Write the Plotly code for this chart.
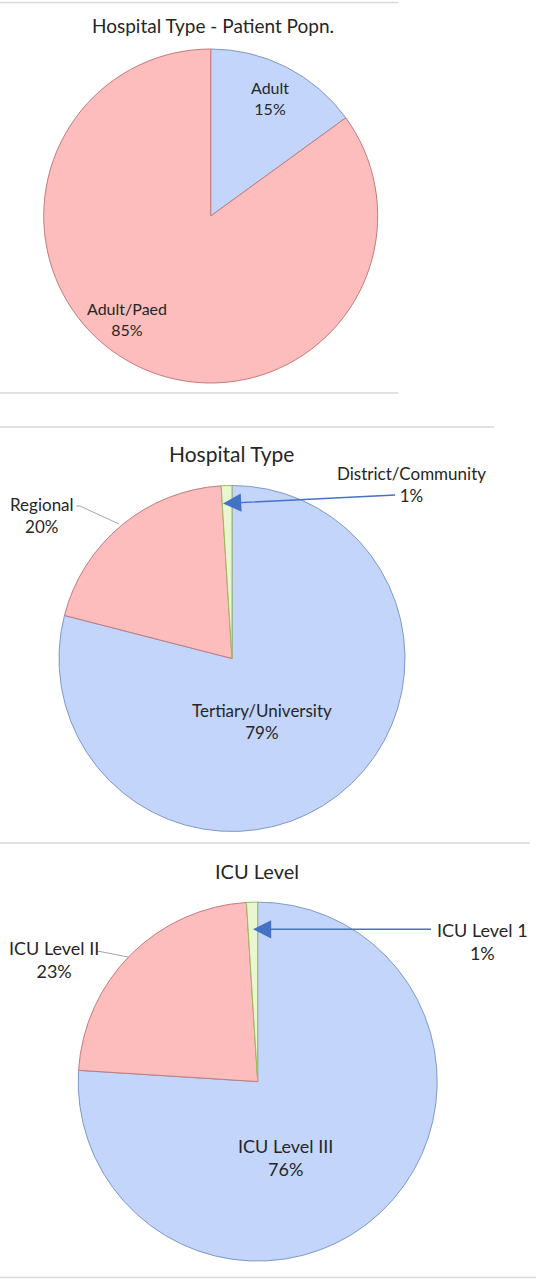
import plotly.graph_objects as go

W, H = 536, 1280

# chart 1 - patient population
popn_labels = ['Adult', 'Adult/Paed']
popn_values = [15, 85]

# chart 2 - hospital type
type_labels = ['Tertiary/University', 'Regional', 'District/Community']
type_values = [79, 20, 1]

# chart 3 - ICU level
icu_labels = ['ICU Level III', 'ICU Level II', 'ICU Level 1']
icu_values = [76, 23, 1]

titles = ['Hospital Type - Patient Popn.', 'Hospital Type', 'ICU Level']

BLUE = '#c3d5fb'
RED = '#fcbdbc'
GREEN = '#eaf6d0'
BLUE_LINE = '#8098c8'
RED_LINE = '#c47a7a'
GREEN_LINE = '#9bbb59'
TEXT = '#262626'
FONT = 'Lato'


def px(x):
    return x / W


def py(y):
    return 1 - y / H


def pie_domain(cx, cy, r):
    return dict(x=[px(cx - r), px(cx + r)], y=[py(cy + r), py(cy - r)])


def label(labels, values, i):
    return f'{labels[i]}<br>{values[i]}%'


fig = go.Figure()

fig.add_trace(go.Pie(labels=popn_labels, values=popn_values,
                     domain=pie_domain(210.7, 216, 167),
                     marker=dict(colors=[BLUE, RED],
                                 line=dict(color=[BLUE_LINE, RED_LINE], width=1)),
                     sort=False, direction='clockwise', textinfo='none',
                     hoverinfo='label+percent'))

fig.add_trace(go.Pie(labels=type_labels, values=type_values,
                     domain=pie_domain(232, 658.5, 173),
                     marker=dict(colors=[BLUE, RED, GREEN],
                                 line=dict(color=[BLUE_LINE, RED_LINE, GREEN_LINE], width=1)),
                     sort=False, direction='clockwise', textinfo='none',
                     hoverinfo='label+percent'))

fig.add_trace(go.Pie(labels=icu_labels, values=icu_values,
                     domain=pie_domain(257.7, 1081.6, 179.5),
                     marker=dict(colors=[BLUE, RED, GREEN],
                                 line=dict(color=[BLUE_LINE, RED_LINE, GREEN_LINE], width=1)),
                     sort=False, direction='clockwise', textinfo='none',
                     hoverinfo='label+percent'))

annotations = []


def text_at(txt, x, y, size):
    annotations.append(dict(text=txt, x=px(x), y=py(y), xref='paper', yref='paper',
                            xanchor='center', yanchor='middle', showarrow=False,
                            font=dict(family=FONT, size=size, color=TEXT)))


def arrow(x_tip, y_tip, x_tail, y_tail):
    annotations.append(dict(text='', x=px(x_tip), y=py(y_tip), xref='paper', yref='paper',
                            ax=x_tail - x_tip, ay=y_tail - y_tip,
                            showarrow=True, arrowhead=2, arrowsize=2.6,
                            arrowwidth=1.4, arrowcolor='#4472c4'))


# titles
text_at(titles[0], 212.5, 26, 19)
text_at(titles[1], 231, 453, 21)
text_at(titles[2], 257.4, 871, 20)

# chart 1 labels
text_at(label(popn_labels, popn_values, 0), 269.5, 98.5, 16)
text_at(label(popn_labels, popn_values, 1), 127, 319, 16)

# chart 2 labels
text_at(label(type_labels, type_values, 0), 262, 721.5, 17)
text_at(label(type_labels, type_values, 1), 42, 515, 17)
text_at(label(type_labels, type_values, 2), 411.6, 484.7, 17)
arrow(223, 503.5, 396.6, 495)

# chart 3 labels
text_at(label(icu_labels, icu_values, 0), 285, 1157, 18)
text_at(label(icu_labels, icu_values, 1), 54, 959, 18)
text_at(label(icu_labels, icu_values, 2), 482, 941.3, 18)
arrow(253, 929.3, 432.5, 929.3)

shapes = []


def hline(y, x1):
    shapes.append(dict(type='line', xref='paper', yref='paper',
                       x0=0, x1=px(x1), y0=py(y), y1=py(y),
                       line=dict(color='#d9d9d9', width=1.5)))


def leader(points):
    path = 'M ' + ' L '.join(f'{px(x)},{py(y)}' for x, y in points)
    shapes.append(dict(type='path', xref='paper', yref='paper', path=path,
                       line=dict(color='#a6a6a6', width=1)))


hline(2.4, 398)
hline(393, 398)
hline(427, 494)
hline(843, 530)
hline(1277.5, 536)

leader([(76, 506), (80, 506), (119, 524)])
leader([(97, 951.5), (100, 951.5), (128, 957)])

fig.update_layout(width=W, height=H, margin=dict(l=0, r=0, t=0, b=0),
                  paper_bgcolor='white', plot_bgcolor='white',
                  showlegend=False, annotations=annotations, shapes=shapes,
                  font=dict(family=FONT, color=TEXT))

# drop the page's default body margin so the figure sits at the window origin
fig.write_html("out.html", config={'displayModeBar': False},
               post_script="document.body.style.margin = '0';")
